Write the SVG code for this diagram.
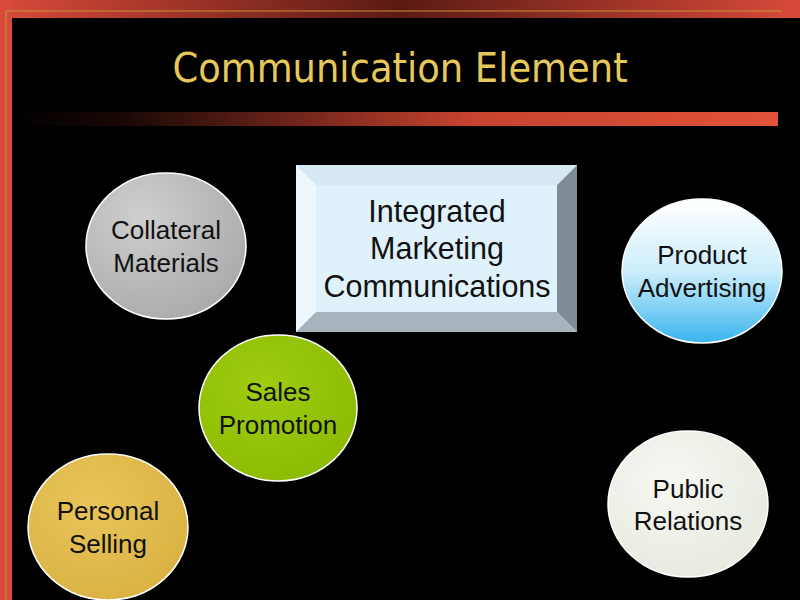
<svg xmlns="http://www.w3.org/2000/svg" width="800" height="600" viewBox="0 0 800 600">
<defs>
<linearGradient id="top" x1="0" x2="1"><stop offset="0" stop-color="#d84a3a"/><stop offset="0.5" stop-color="#5a1a12"/><stop offset="1" stop-color="#d84a3a"/></linearGradient>
<linearGradient id="bar" x1="0" x2="1"><stop offset="0" stop-color="#000"/><stop offset="0.15" stop-color="#1a0805"/><stop offset="0.6" stop-color="#c8432f"/><stop offset="1" stop-color="#e0533a"/></linearGradient>
<radialGradient id="gGray" cx="0.35" cy="0.3" r="0.8"><stop offset="0" stop-color="#cfcfcf"/><stop offset="1" stop-color="#a8a8a8"/></radialGradient>
<linearGradient id="gBlue" x1="0" y1="0" x2="0" y2="1"><stop offset="0" stop-color="#ffffff"/><stop offset="0.5" stop-color="#cdeefb"/><stop offset="1" stop-color="#39b4ee"/></linearGradient>
<radialGradient id="gGreen" cx="0.4" cy="0.35" r="0.8"><stop offset="0" stop-color="#9fcc10"/><stop offset="1" stop-color="#88b800"/></radialGradient>
<radialGradient id="gGold" cx="0.4" cy="0.35" r="0.8"><stop offset="0" stop-color="#e8c45a"/><stop offset="1" stop-color="#d8b040"/></radialGradient>
<radialGradient id="gWhite" cx="0.4" cy="0.35" r="0.8"><stop offset="0" stop-color="#f6f8f2"/><stop offset="1" stop-color="#e4e8dc"/></radialGradient>
<style>
.lbl{font-family:"Liberation Sans",Arial,sans-serif;font-size:26px;fill:#111;text-anchor:middle}
.big{font-size:30.5px}
.c{stroke:#fff;stroke-width:1.5}
</style>
</defs>
<rect width="800" height="600" fill="#000"/>
<rect x="0" y="0" width="800" height="18" fill="url(#top)"/>
<rect x="0" y="0" width="12" height="600" fill="#d84a3a"/>
<line x1="6" y1="11" x2="6" y2="600" stroke="#c8903a" stroke-width="1"/>
<line x1="6" y1="11" x2="782" y2="11" stroke="#c8903a" stroke-width="1"/>
<rect x="12" y="112" width="766" height="14" fill="url(#bar)"/>
<text x="400" y="82" font-family="DejaVu Sans Condensed,DejaVu Sans,sans-serif" font-stretch="condensed" font-size="41" fill="#e6c85a" text-anchor="middle">Communication Element</text>
<g id="imc">
<rect x="296" y="165" width="281" height="167" fill="#dff1fb"/>
<polygon points="296,165 316,185 316,312 296,332" fill="#eef7fc"/>
<polygon points="577,165 557,185 557,312 577,332" fill="#7f8c94"/>
<polygon points="296,332 316,312 557,312 577,332" fill="#a7b4bb"/>
<polygon points="296,165 316,185 557,185 577,165" fill="#d6e8f2"/>
<rect x="316" y="185" width="241" height="127" fill="#dff1fb"/>
<text class="lbl big" x="437" y="222">Integrated</text>
<text class="lbl big" x="437" y="259">Marketing</text>
<text class="lbl big" x="437" y="297">Communications</text>
</g>
<g id="collateral"><ellipse class="c" cx="166" cy="246" rx="80" ry="73" fill="url(#gGray)"/><text class="lbl" x="166" y="239">Collateral</text><text class="lbl" x="166" y="272">Materials</text></g>
<g id="product"><ellipse class="c" cx="702" cy="271" rx="80" ry="72" fill="url(#gBlue)"/><text class="lbl" x="702" y="264">Product</text><text class="lbl" x="702" y="297">Advertising</text></g>
<g id="sales"><ellipse class="c" cx="278" cy="408" rx="79" ry="73" fill="url(#gGreen)"/><text class="lbl" x="278" y="401">Sales</text><text class="lbl" x="278" y="434">Promotion</text></g>
<g id="personal"><ellipse class="c" cx="108" cy="527" rx="80" ry="73" fill="url(#gGold)"/><text class="lbl" x="108" y="520">Personal</text><text class="lbl" x="108" y="553">Selling</text></g>
<g id="public"><ellipse class="c" cx="688" cy="504" rx="80" ry="73" fill="url(#gWhite)"/><text class="lbl" x="688" y="498">Public</text><text class="lbl" x="688" y="530">Relations</text></g>
<g id="connectors"/>
</svg>
